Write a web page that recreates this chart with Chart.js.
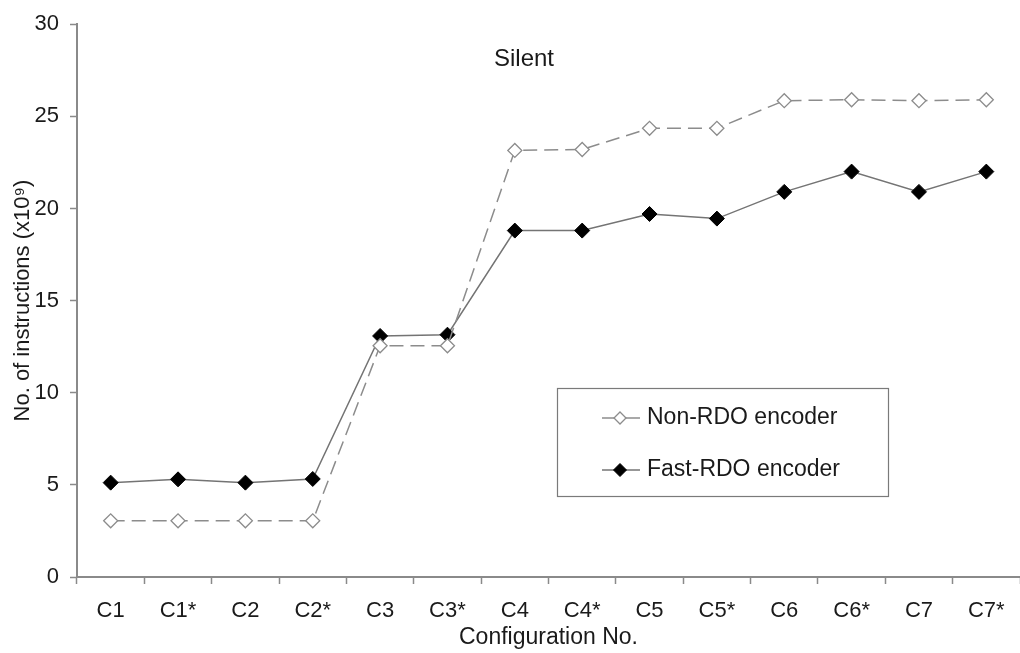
<!DOCTYPE html>
<html>
<head>
<meta charset="utf-8">
<title>Silent</title>
<script src="https://cdn.jsdelivr.net/npm/chart.js@4/dist/chart.umd.min.js"></script>
<style>
    html, body { margin: 0; padding: 0; background: #ffffff; }
    #wrap { width: 1020px; height: 653px; }
</style>
</head>
<body>
<div id="wrap"><canvas id="chart" width="1020" height="653"></canvas></div>
<script>
// Chart values
const categories = ['C1', 'C1*', 'C2', 'C2*', 'C3', 'C3*', 'C4', 'C4*', 'C5', 'C5*', 'C6', 'C6*', 'C7', 'C7*'];
const nonRdoValues = [3.05, 3.05, 3.05, 3.05, 12.55, 12.55, 23.15, 23.2, 24.35, 24.35, 25.85, 25.9, 25.85, 25.9];
const fastRdoValues = [5.12, 5.3, 5.12, 5.32, 13.08, 13.15, 18.8, 18.8, 19.7, 19.45, 20.9, 22.0, 20.9, 22.0];
const seriesNames = ['Non-RDO encoder', 'Fast-RDO encoder'];
const yMin = 0, yMax = 30, yStep = 5;
const chartTitle = 'Silent';

const textColor = '#1a1a1a';
const axisColor = '#8a8a8a';
const fontFamily = "'Liberation Sans', Arial, sans-serif";

// Title and boxed legend drawn inside the plot area
const innerDecor = {
    id: 'innerDecor',
    afterDraw(chart) {
        const ctx = chart.ctx;
        const area = chart.chartArea;
        ctx.save();

        // title
        ctx.fillStyle = textColor;
        ctx.font = "24px " + fontFamily;
        ctx.textAlign = 'center';
        ctx.textBaseline = 'middle';
        ctx.fillText(chartTitle, area.left + 447, area.top + 35);

        // legend box
        const bx = 557, by = 388, bw = 331, bh = 108;
        ctx.strokeStyle = '#7a7a7a';
        ctx.lineWidth = 1.2;
        ctx.strokeRect(bx + 0.5, by + 0.5, bw, bh);

        const rows = [418, 470];
        chart.data.datasets.forEach((ds, i) => {
            const y = rows[i];
            ctx.strokeStyle = ds.borderColor;
            ctx.lineWidth = ds.borderWidth;
            ctx.setLineDash([]);
            ctx.beginPath();
            ctx.moveTo(602, y);
            ctx.lineTo(640, y);
            ctx.stroke();

            const r = ds.pointRadius - 1;
            ctx.fillStyle = ds.pointBackgroundColor;
            ctx.strokeStyle = ds.pointBorderColor;
            ctx.lineWidth = ds.pointBorderWidth;
            ctx.beginPath();
            ctx.moveTo(620, y - r);
            ctx.lineTo(620 + r, y);
            ctx.lineTo(620, y + r);
            ctx.lineTo(620 - r, y);
            ctx.closePath();
            ctx.fill();
            ctx.stroke();

            ctx.fillStyle = textColor;
            ctx.font = "23px " + fontFamily;
            ctx.textAlign = 'left';
            ctx.textBaseline = 'middle';
            ctx.fillText(ds.label, 647, y);
        });
        ctx.restore();
    }
};

const ctx = document.getElementById('chart').getContext('2d');
new Chart(ctx, {
    type: 'line',
    data: {
        labels: categories,
        datasets: [
            {
                label: seriesNames[0],
                data: nonRdoValues,
                borderColor: '#8c8c8c',
                borderWidth: 1.5,
                borderDash: [14, 7],
                pointStyle: 'rectRot',
                pointRadius: 7,
                pointBackgroundColor: '#ffffff',
                pointBorderColor: '#8c8c8c',
                pointBorderWidth: 1.3,
                tension: 0
            },
            {
                label: seriesNames[1],
                data: fastRdoValues,
                borderColor: '#747474',
                borderWidth: 1.5,
                pointStyle: 'rectRot',
                pointRadius: 7.5,
                pointBackgroundColor: '#000000',
                pointBorderColor: '#000000',
                pointBorderWidth: 1,
                tension: 0
            }
        ]
    },
    options: {
        responsive: false,
        animation: false,
        layout: { autoPadding: false, padding: { top: 20, right: 0, left: 0, bottom: 0 } },
        plugins: {
            legend: { display: false },
            tooltip: { enabled: false }
        },
        scales: {
            x: {
                offset: true,
                afterFit: s => {
                    s.height = 76;
                    s.paddingLeft = 0;
                    s.paddingRight = 0;
                },
                grid: {
                    offset: true,
                    drawOnChartArea: false,
                    drawTicks: true,
                    tickLength: 7,
                    tickColor: axisColor,
                    tickWidth: 1.5
                },
                border: { color: axisColor, width: 2 },
                ticks: {
                    color: textColor,
                    font: { family: fontFamily, size: 22 },
                    padding: 14,
                    maxRotation: 0,
                    autoSkip: false
                },
                title: {
                    display: true,
                    text: 'Configuration No.',
                    color: textColor,
                    font: { family: fontFamily, size: 23 },
                    padding: { top: 2, bottom: 2 }
                }
            },
            y: {
                min: yMin,
                max: yMax,
                afterFit: s => { s.width = 77; },
                grid: {
                    drawOnChartArea: false,
                    drawTicks: true,
                    tickLength: 7,
                    tickColor: axisColor,
                    tickWidth: 1.5
                },
                border: { color: axisColor, width: 2 },
                ticks: {
                    stepSize: yStep,
                    color: textColor,
                    font: { family: fontFamily, size: 22 },
                    padding: 11
                },
                title: {
                    display: true,
                    text: 'No. of instructions (x10\u2079)',
                    color: textColor,
                    font: { family: fontFamily, size: 22 },
                    padding: { top: 10, bottom: 2 }
                }
            }
        }
    },
    plugins: [innerDecor]
});
</script>
</body>
</html>
